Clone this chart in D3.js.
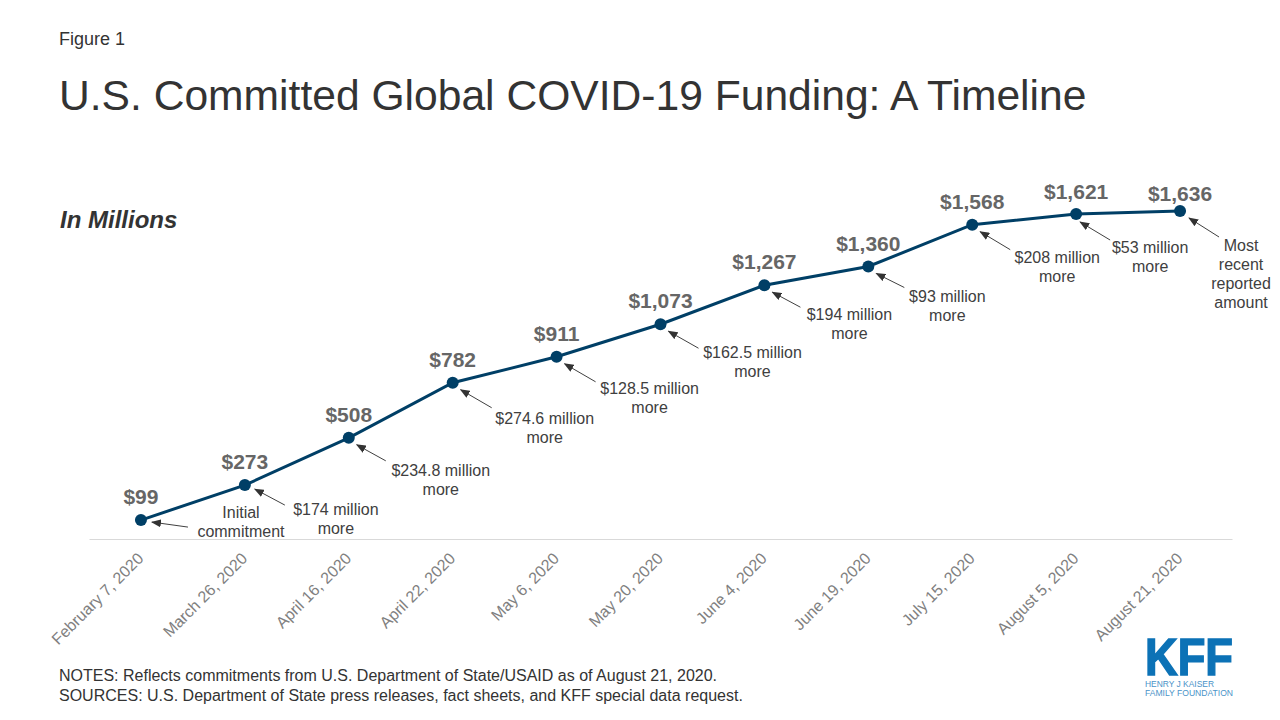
<!DOCTYPE html>
<html>
<head>
<meta charset="utf-8">
<script src="https://cdnjs.cloudflare.com/ajax/libs/d3/7.8.5/d3.min.js"></script>
<style>
	html, body { margin: 0; padding: 0; background: #fff; }
	svg { display: block; font-family: "Liberation Sans", Arial, sans-serif; }
	.note { font-size: 16px; fill: #404040; text-anchor: middle; }
	.value { font-size: 21px; font-weight: bold; fill: #666; text-anchor: middle; }
	.foot { font-size: 16px; fill: #333; }
	.axis text { font-size: 16px; fill: #808080; }
</style>
</head>
<body>
<svg id="chart" width="1280" height="720"></svg>
<script>
const dates = ['February 7, 2020', 'March 26, 2020', 'April 16, 2020', 'April 22, 2020', 'May 6, 2020', 'May 20, 2020', 'June 4, 2020', 'June 19, 2020', 'July 15, 2020', 'August 5, 2020', 'August 21, 2020']
const totals = [99, 273, 508, 782, 911, 1073, 1267, 1360, 1568, 1621, 1636]
const notes = [
	['Initial', 'commitment'],
	['$174 million', 'more'],
	['$234.8 million', 'more'],
	['$274.6 million', 'more'],
	['$128.5 million', 'more'],
	['$162.5 million', 'more'],
	['$194 million', 'more'],
	['$93 million', 'more'],
	['$208 million', 'more'],
	['$53 million', 'more'],
	['Most', 'recent', 'reported', 'amount']
]

// where each note sits relative to its point, and its arrow [tailX, tailY, headX, headY]
const noteOffsets = [[100, -2], [91, 30], [92, 38], [92, 41], [93, 37], [92, 34], [85, 35], [79, 35], [85, 38], [74, 39], [61, 40]]
const arrowOffsets = [[47, 7, 11, 2], [40, 20, 10, 4], [37, 23, 8, 7], [39, 25, 8, 7], [39, 25, 8, 7], [38, 24, 8, 7], [36, 22, 8, 7], [36, 21, 8, 7], [38, 25, 8, 7], [34, 26, 4, 8], [39, 26, 9, 7]]
const valueOffsets = [-16, -16, -16, -16, -16, -16, -16, -16, -16, -15, -10]

const navy = '#003f66'
const svg = d3.select('#chart')

const x = d3.scaleBand().domain(dates).range([89, 1232])
const y = d3.scaleLinear().domain([0, 1636]).range([540, 211])
const cx = d => x(d) + x.bandwidth() / 2

svg.append('defs').append('marker')
	.attr('id', 'head')
	.attr('viewBox', '0 0 10 8')
	.attr('refX', 9).attr('refY', 4)
	.attr('markerWidth', 10).attr('markerHeight', 8)
	.attr('markerUnits', 'userSpaceOnUse')
	.attr('orient', 'auto')
	.append('path').attr('d', 'M0,0L10,4L0,8Z').attr('fill', '#333')

// titles
svg.append('text').attr('x', 59).attr('y', 45).attr('font-size', 18).attr('fill', '#333').text('Figure 1')
svg.append('text').attr('x', 59).attr('y', 110).attr('font-size', 42.6).attr('fill', '#333')
	.text('U.S. Committed Global COVID-19 Funding: A Timeline')
svg.append('text').attr('x', 60).attr('y', 228).attr('font-size', 24).attr('font-weight', 'bold')
	.attr('font-style', 'italic').attr('fill', '#333').text('In Millions')

// axis
const axis = svg.append('g').attr('class', 'axis')
	.attr('transform', 'translate(0,539)')
	.call(d3.axisBottom(x).tickSize(0))
axis.select('.domain').attr('stroke', '#d9d9d9')
axis.selectAll('text')
	.attr('text-anchor', 'end')
	.attr('dx', 0).attr('dy', 0).attr('y', 0)
	.attr('transform', 'translate(3.5,20.5) rotate(-45)')

// line and points
const line = d3.line().x((d, i) => cx(dates[i])).y(d => y(d))
svg.append('path').datum(totals)
	.attr('d', line)
	.attr('fill', 'none')
	.attr('stroke', navy)
	.attr('stroke-width', 3)

svg.selectAll('.dot').data(totals).enter().append('circle')
	.attr('class', 'dot')
	.attr('cx', (d, i) => cx(dates[i]))
	.attr('cy', d => y(d))
	.attr('r', 6)
	.attr('fill', navy)

svg.selectAll('.value').data(totals).enter().append('text')
	.attr('class', 'value')
	.attr('x', (d, i) => cx(dates[i]))
	.attr('y', (d, i) => y(d) + valueOffsets[i])
	.text(d => '$' + d3.format(',')(d))

// arrows
svg.selectAll('.arrow').data(totals).enter().append('line')
	.attr('class', 'arrow')
	.attr('x1', (d, i) => cx(dates[i]) + arrowOffsets[i][0])
	.attr('y1', (d, i) => y(d) + arrowOffsets[i][1])
	.attr('x2', (d, i) => cx(dates[i]) + arrowOffsets[i][2])
	.attr('y2', (d, i) => y(d) + arrowOffsets[i][3])
	.attr('stroke', '#404040')
	.attr('stroke-width', 1)
	.attr('marker-end', 'url(#head)')

// notes
const noteText = svg.selectAll('.note').data(notes).enter().append('text')
	.attr('class', 'note')
	.attr('transform', (d, i) => `translate(${cx(dates[i]) + noteOffsets[i][0]},${y(totals[i]) + noteOffsets[i][1]})`)
noteText.selectAll('tspan').data(d => d).enter().append('tspan')
	.attr('x', 0)
	.attr('y', (d, i) => i * 19)
	.text(d => d)

// footer
svg.append('text').attr('class', 'foot').attr('x', 59).attr('y', 681)
	.text('NOTES: Reflects commitments from U.S. Department of State/USAID as of August 21, 2020.')
svg.append('text').attr('class', 'foot').attr('x', 59).attr('y', 701)
	.text('SOURCES: U.S. Department of State press releases, fact sheets, and KFF special data request.')

// logo
const logo = svg.append('g').attr('fill', '#0c72b6')
logo.append('text').attr('x', 1145).attr('y', 675).attr('font-size', 51).attr('font-weight', 'bold')
	.attr('stroke', '#0c72b6').attr('stroke-width', 1.5)
	.attr('textLength', 88).attr('lengthAdjust', 'spacingAndGlyphs').text('KFF')
logo.append('text').attr('x', 1145).attr('y', 687).attr('font-size', 9.5).attr('fill', '#4a93c8')
	.attr('textLength', 69).attr('lengthAdjust', 'spacingAndGlyphs').text('HENRY J KAISER')
logo.append('text').attr('x', 1145).attr('y', 696).attr('font-size', 9.5).attr('fill', '#4a93c8')
	.attr('textLength', 88).attr('lengthAdjust', 'spacingAndGlyphs').text('FAMILY FOUNDATION')
</script>
</body>
</html>
